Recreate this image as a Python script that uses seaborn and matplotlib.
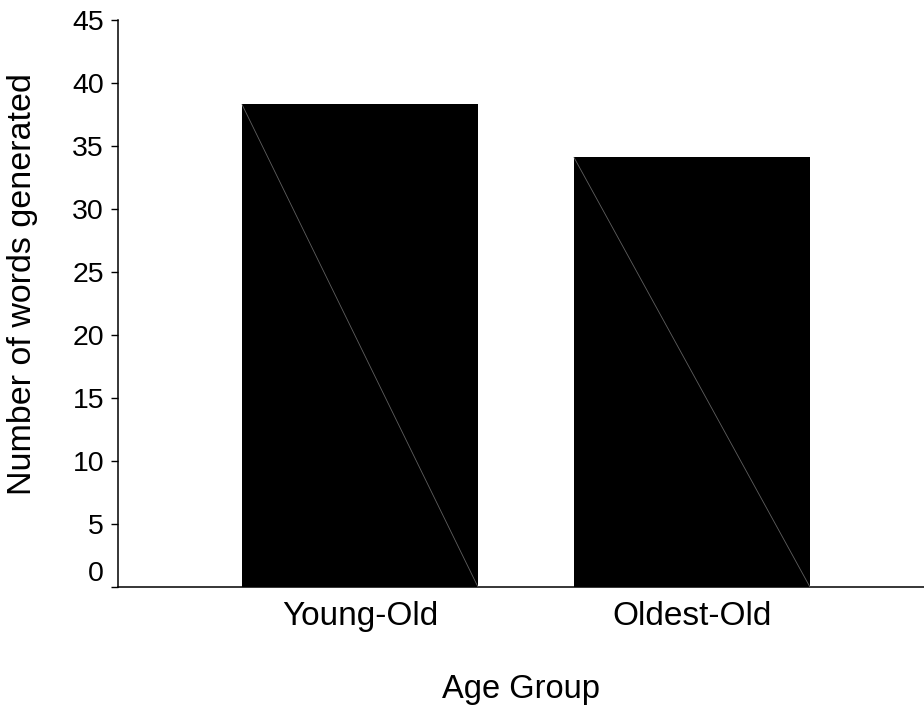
import matplotlib
matplotlib.use("Agg")
import matplotlib.pyplot as plt
import seaborn as sns
import pandas as pd

GROUPS = ["Young-Old", "Oldest-Old"]
WORDS  = [38.3, 34.1]
Y_TICKS = list(range(0, 50, 5))

sns.set_theme(style="white")
plt.rcParams["font.family"] = ["Liberation Sans", "DejaVu Sans"]

df = pd.DataFrame({"group": GROUPS, "words": WORDS})

fig = plt.figure(figsize=(9.24, 7.10), dpi=100)
ax = fig.add_axes([0.1277, 0.1732, 0.8723, 0.7986])

sns.barplot(data=df, x="group", y="words", color="black", saturation=1,
            width=0.711, edgecolor="black", linewidth=0, ax=ax)

# faint diagonal seen inside each bar of the original
for p in ax.patches:
    x0, y0 = p.get_x(), p.get_y()
    ax.plot([x0, x0 + p.get_width()], [y0 + p.get_height(), y0],
            color="#606060", linewidth=0.6, zorder=3)

ax.set_xlim(-0.729, 1.699)
ax.set_ylim(0, 45)
ax.set_yticks(Y_TICKS)
ax.set_yticklabels([str(t) for t in Y_TICKS])
ax.get_yticklabels()[0].set_verticalalignment("bottom")

for side in ["top", "right"]:
    ax.spines[side].set_visible(False)
for side in ["left", "bottom"]:
    ax.spines[side].set_linewidth(1.1)
    ax.spines[side].set_color("black")

ax.tick_params(axis="y", direction="out", length=5, width=1, colors="black",
               labelsize=20.5, pad=5, left=True)
ax.tick_params(axis="x", length=0, labelsize=24, pad=10, labelcolor="black")

ax.set_xlabel("Age Group", fontsize=23.5, labelpad=30, color="black")
ax.set_ylabel("Number of words generated", fontsize=24.5, color="black")
ax.yaxis.set_label_coords(-0.099, 0.535)

fig.savefig("out.png", dpi=100)
plt.close(fig)
